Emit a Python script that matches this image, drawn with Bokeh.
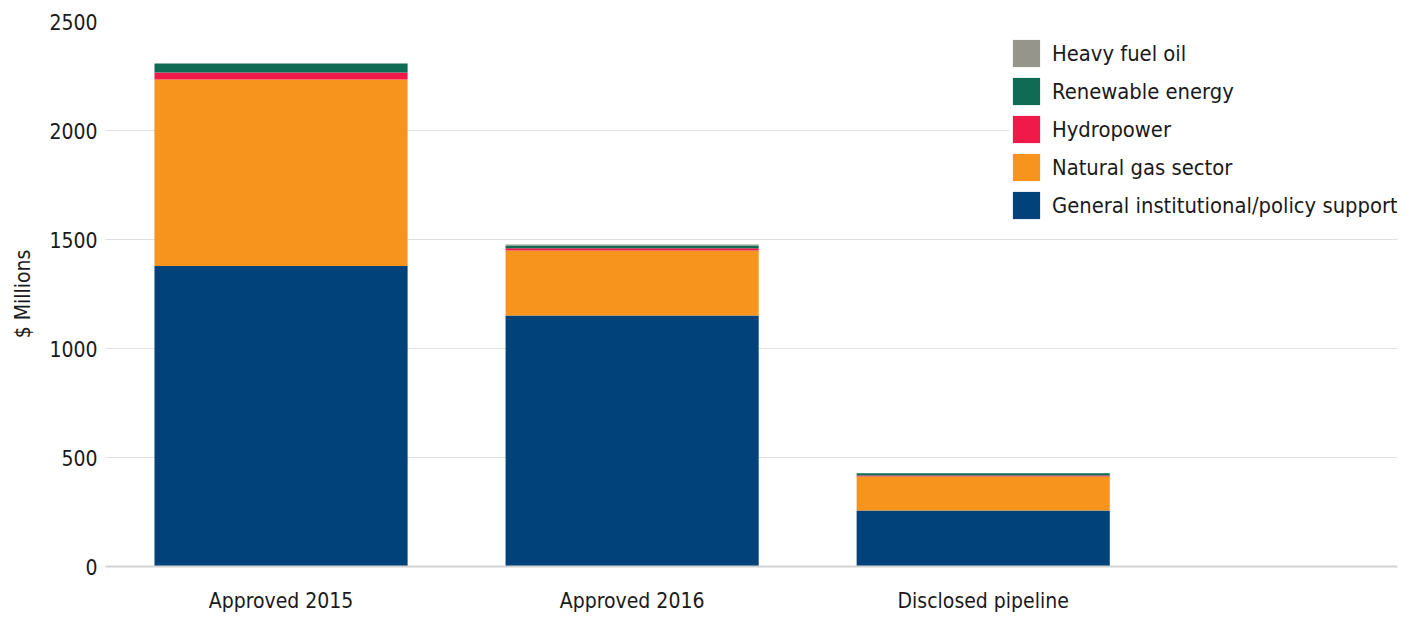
from bokeh.plotting import figure
from bokeh.models import ColumnDataSource, Range1d, FixedTicker, Legend, LegendItem
from bokeh.embed import file_html
from bokeh.resources import INLINE

categories = ["Approved 2015", "Approved 2016", "Disclosed pipeline"]
general = [1378, 1151, 257]
natural_gas = [856, 299, 156]
hydropower = [32, 10, 4]
renewable = [41, 12, 11]
heavy_fuel_oil = [0, 5, 0]

series = ["general", "natural_gas", "hydropower", "renewable", "heavy_fuel_oil"]
labels = ["General institutional/policy support", "Natural gas sector", "Hydropower",
          "Renewable energy", "Heavy fuel oil"]
colors = ["#02427a", "#f7941e", "#ef1a4a", "#0f6b53", "#95958b"]
y_ticks = [0, 500, 1000, 1500, 2000, 2500]

FONT = "'DejaVu Sans Condensed', Roboto, sans-serif"
TXT = "#1a1a1a"

src = ColumnDataSource(dict(
    x=list(range(len(categories))),
    general=general, natural_gas=natural_gas, hydropower=hydropower,
    renewable=renewable, heavy_fuel_oil=heavy_fuel_oil,
))

p = figure(frame_width=1292, frame_height=545, output_backend="svg", toolbar_location=None,
           x_range=Range1d(-0.5, 3.18), y_range=Range1d(0, 2500),
           min_border_left=105, min_border_top=21, min_border_right=3, min_border_bottom=40)
p.outline_line_color = None

renderers = p.vbar_stack(series, x="x", width=0.721, source=src, color=colors, line_color=None)

p.xgrid.grid_line_color = None
p.ygrid.grid_line_color = "#e0e0e0"
p.ygrid.grid_line_width = 1
p.ygrid.ticker = FixedTicker(ticks=y_ticks)

p.yaxis.ticker = FixedTicker(ticks=y_ticks)
p.yaxis.axis_line_color = None
p.yaxis.major_tick_line_color = None
p.yaxis.minor_tick_line_color = None
p.yaxis.major_tick_out = 0
p.yaxis.major_tick_in = 0
p.yaxis.major_label_standoff = 8
p.yaxis.major_label_text_font = FONT
p.yaxis.major_label_text_font_size = "21px"
p.yaxis.major_label_text_color = TXT
p.yaxis.axis_label = "$ Millions"
p.yaxis.axis_label_text_font = FONT
p.yaxis.axis_label_text_font_size = "21px"
p.yaxis.axis_label_text_font_style = "normal"
p.yaxis.axis_label_text_color = TXT
p.yaxis.axis_label_standoff = 11

p.xaxis.ticker = FixedTicker(ticks=list(range(len(categories))))
p.xaxis.major_label_overrides = {i: c for i, c in enumerate(categories)}
p.xaxis.axis_line_color = "#d2d2d2"
p.xaxis.axis_line_width = 2
p.xaxis.major_tick_line_color = None
p.xaxis.minor_tick_line_color = None
p.xaxis.major_tick_out = 0
p.xaxis.major_tick_in = 0
p.xaxis.major_label_standoff = 22
p.xaxis.major_label_text_font = FONT
p.xaxis.major_label_text_font_size = "21px"
p.xaxis.major_label_text_color = TXT

items = [LegendItem(label=labels[i], renderers=[renderers[i]]) for i in reversed(range(len(series)))]
legend = Legend(items=items, location=(904, 344))
legend.label_text_font = FONT
legend.label_text_font_size = "21.8px"
legend.label_text_color = TXT
legend.glyph_width = 34
legend.glyph_height = 34
legend.label_height = 34
legend.spacing = 4
legend.label_standoff = 9
legend.padding = 6
legend.margin = 0
legend.border_line_color = None
legend.background_fill_color = "white"
legend.background_fill_alpha = 1.0
p.add_layout(legend)

open("out.html", "w").write(file_html(p, INLINE))
